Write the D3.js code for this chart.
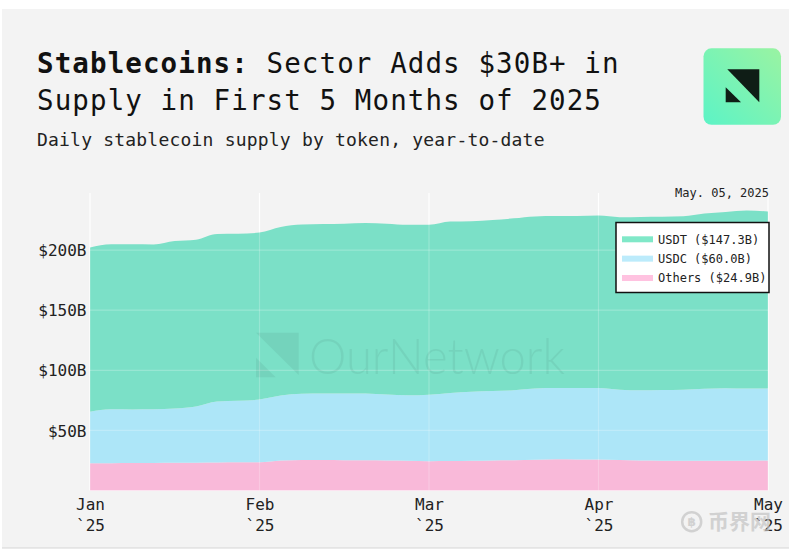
<!DOCTYPE html>
<html>
<head>
<meta charset="utf-8">
<script src="https://cdn.jsdelivr.net/npm/d3@7"></script>
<style>
  html, body { margin: 0; padding: 0; background: #ffffff; }
  svg { display: block; }
</style>
</head>
<body>
<svg id="chart" width="789" height="552"></svg>
<script>
// ---- Data (USD billions), roughly every ~4 days, Jan 1 -> May 5, 2025 ----
const monthLabels = ["Jan", "Feb", "Mar", "Apr", "May"];
const yearLabel = "`25";
const monthTickIdx = [0, 8, 16, 24, 32];
const yTicks = [50, 100, 150, 200];

const others = [22.6, 22.7, 22.8, 22.9, 23.0, 23.1, 23.2, 23.4, 23.5, 24.9, 25.4,
  25.3, 25.2, 25.1, 24.9, 24.7, 24.4, 24.5, 24.7, 25.0, 25.2, 25.6, 25.9, 25.8, 25.7,
  25.3, 24.9, 24.8, 24.7, 24.7, 24.8, 24.8, 24.9];
const usdc = [42.9, 44.8, 44.6, 44.6, 45.2, 46.8, 50.8, 51.2, 52.2, 54.1, 55.0,
  55.4, 55.6, 55.5, 55.0, 54.5, 55.3, 56.6, 57.5, 57.7, 58.2, 59.2, 59.3, 59.4, 59.5,
  58.6, 58.5, 58.8, 59.2, 59.9, 60.3, 60.0, 60.0];
const usdt = [136.7, 137.3, 137.4, 137.2, 139.3, 138.8, 139.4, 139.0, 138.9, 140.3, 140.8,
  141.0, 141.2, 142.0, 142.1, 141.8, 141.4, 142.6, 141.9, 142.4, 143.0, 143.2, 143.2, 143.2, 143.5,
  143.5, 144.2, 144.1, 144.2, 145.8, 146.7, 148.2, 147.3];

const seriesKeys = ["others", "usdc", "usdt"];
const legendNames = ["USDT ($147.3B)", "USDC ($60.0B)", "Others ($24.9B)"];
const legendKeys = ["usdt", "usdc", "others"];
const areaColors = { usdt: "#7be0c7", usdc: "#ade6f8", others: "#f9b9d9" };
const swatchColors = { usdt: "#80e8c8", usdc: "#bcebfb", others: "#ffc2e0" };

const table = others.map((o, i) => ({ i, others: o, usdc: usdc[i], usdt: usdt[i] }));

(function () {
// ---- Layout ----
const svg = d3.select("#chart");
const mono = "'DejaVu Sans Mono', 'Liberation Mono', monospace";
const pLeft = 90, pRight = 768, pTop = 190, pBottom = 490.5;

// background panel
svg.append("rect").attr("x", 2).attr("y", 9).attr("width", 787).attr("height", 539).attr("fill", "#f3f3f3");
svg.append("line").attr("x1", 2).attr("x2", 789).attr("y1", 548).attr("y2", 548)
  .attr("stroke", "#d6d6d6").attr("stroke-width", 1.2);

// Title
const title = svg.append("text").attr("x", 37).attr("y", 73)
  .attr("font-family", mono).attr("font-size", 27.5).attr("letter-spacing", 1.1).attr("fill", "#111");
title.append("tspan").attr("font-weight", "bold").text("Stablecoins:");
title.append("tspan").text(" Sector Adds $30B+ in");
svg.append("text").attr("x", 37).attr("y", 110)
  .attr("font-family", mono).attr("font-size", 27.5).attr("letter-spacing", 1.1).attr("fill", "#111")
  .text("Supply in First 5 Months of 2025");
svg.append("text").attr("x", 37).attr("y", 145.5)
  .attr("font-family", mono).attr("font-size", 18).attr("letter-spacing", 0.2).attr("fill", "#222")
  .text("Daily stablecoin supply by token, year-to-date");

// Logo
const defs = svg.append("defs");
const grad = defs.append("linearGradient").attr("id", "logoGrad")
  .attr("x1", "1").attr("y1", "0").attr("x2", "0").attr("y2", "1");
grad.append("stop").attr("offset", "0%").attr("stop-color", "#9af3a2");
grad.append("stop").attr("offset", "100%").attr("stop-color", "#5cf3c6");
svg.append("rect").attr("x", 703.5).attr("y", 48.3).attr("width", 77.5).attr("height", 76.5)
  .attr("rx", 8).attr("fill", "url(#logoGrad)");
svg.append("path").attr("d", "M727.3,69.3 L759.3,69.3 L759.3,102.3 Z").attr("fill", "#0f1d16");
svg.append("path").attr("d", "M725.7,87.3 L725.7,102.3 L741,102.3 Z").attr("fill", "#0f1d16");

// Scales
const x = d3.scaleLinear().domain([0, table.length - 1]).range([pLeft, pRight]);
const y = d3.scaleLinear().domain([0, 250]).range([pBottom, pTop]);

// Gridlines
function drawGrid(g, opacity) {
  g.selectAll(".vg").data(monthTickIdx).join("line").attr("class", "vg")
    .attr("x1", d => x(d)).attr("x2", d => x(d)).attr("y1", pTop + 3).attr("y2", pBottom)
    .attr("stroke", "#ffffff").attr("stroke-width", 1.2).attr("opacity", opacity);
  g.selectAll(".hg").data([0].concat(yTicks)).join("line").attr("class", "hg")
    .attr("x1", pLeft).attr("x2", pRight).attr("y1", d => y(d)).attr("y2", d => y(d))
    .attr("stroke", "#ffffff").attr("stroke-width", 1.2).attr("opacity", opacity);
}
drawGrid(svg.append("g"), 1);

// Stacked areas
const stack = d3.stack().keys(seriesKeys);
const stacked = stack(table);
const area = d3.area()
  .x(d => x(d.data.i))
  .y0(d => y(d[0]))
  .y1(d => y(d[1]))
  .curve(d3.curveMonotoneX);
svg.append("g").selectAll("path").data(stacked).join("path")
  .attr("d", area)
  .attr("fill", d => areaColors[d.key]);

drawGrid(svg.append("g"), 0.22);

// Watermark
const wm = svg.append("g").attr("fill", "#000").attr("opacity", 0.05);
wm.append("path").attr("d", "M256,332.7 L298.7,332.7 L298.7,375 Z");
wm.append("path").attr("d", "M256,357.7 L256,377.3 L275.7,377.3 Z");
wm.append("text").attr("x", 309).attr("y", 373.5)
  .attr("font-family", "Lato, 'Open Sans', sans-serif").attr("font-weight", 300)
  .attr("font-size", 50).attr("textLength", 256).attr("lengthAdjust", "spacingAndGlyphs")
  .text("OurNetwork");

// Y axis
const yAxis = d3.axisLeft(y).tickValues(yTicks).tickSize(0).tickPadding(0)
  .tickFormat(d => "$" + d + "B");
const yg = svg.append("g").attr("transform", `translate(${pLeft - 3.5},0)`).call(yAxis);
yg.select(".domain").remove();
yg.selectAll("text").attr("font-family", mono).attr("font-size", 16).attr("fill", "#222")
  .attr("dy", "0.35em");

// X axis (two-line labels)
const xAxis = d3.axisBottom(x).tickValues(monthTickIdx).tickSize(0).tickPadding(0)
  .tickFormat((d, i) => monthLabels[i]);
const xg = svg.append("g").attr("transform", `translate(0,${pBottom})`).call(xAxis);
xg.select(".domain").remove();
xg.selectAll(".tick text").each(function (d, i) {
  const t = d3.select(this);
  t.text(null).attr("y", 0).attr("dy", null)
    .attr("font-family", mono).attr("font-size", 16).attr("fill", "#222");
  t.append("tspan").attr("x", 0).attr("y", 19.5).text(monthLabels[i]);
  t.append("tspan").attr("x", 0).attr("y", 40.5).text(yearLabel);
});

// Date label
svg.append("text").attr("x", 769).attr("y", 197).attr("text-anchor", "end")
  .attr("font-family", mono).attr("font-size", 12).attr("fill", "#222").text("May. 05, 2025");

// Legend
const lg = svg.append("g");
lg.append("rect").attr("x", 616).attr("y", 222.5).attr("width", 153).attr("height", 70)
  .attr("fill", "#ffffff").attr("stroke", "#111").attr("stroke-width", 1.5);
const rowY = d3.scalePoint().domain(legendKeys).range([239.3, 278]);
legendKeys.forEach((k, i) => {
  lg.append("rect").attr("x", 622).attr("y", rowY(k) - 3).attr("width", 31).attr("height", 6)
    .attr("fill", swatchColors[k]);
  lg.append("text").attr("x", 658).attr("y", rowY(k)).attr("dy", "0.35em")
    .attr("font-family", mono).attr("font-size", 12).attr("fill", "#222").text(legendNames[i]);
});

// Site watermark bottom-right
const sw = svg.append("g").attr("opacity", 0.7);
sw.append("circle").attr("cx", 691.7).attr("cy", 521.7).attr("r", 9.5)
  .attr("fill", "none").attr("stroke", "#c4c4c4").attr("stroke-width", 2.5);
sw.append("text").attr("x", 691.7).attr("y", 521.7).attr("dy", "0.36em").attr("text-anchor", "middle")
  .attr("font-family", "'DejaVu Sans', sans-serif").attr("font-weight", "bold").attr("font-size", 12)
  .attr("fill", "#c4c4c4").text("฿");
sw.append("text").attr("x", 708).attr("y", 521.7).attr("dy", "0.36em")
  .attr("font-family", "'Noto Sans CJK SC', sans-serif").attr("font-weight", "bold").attr("font-size", 21)
  .attr("fill", "#c4c4c4").text("币界网");
})();
</script>
</body>
</html>
